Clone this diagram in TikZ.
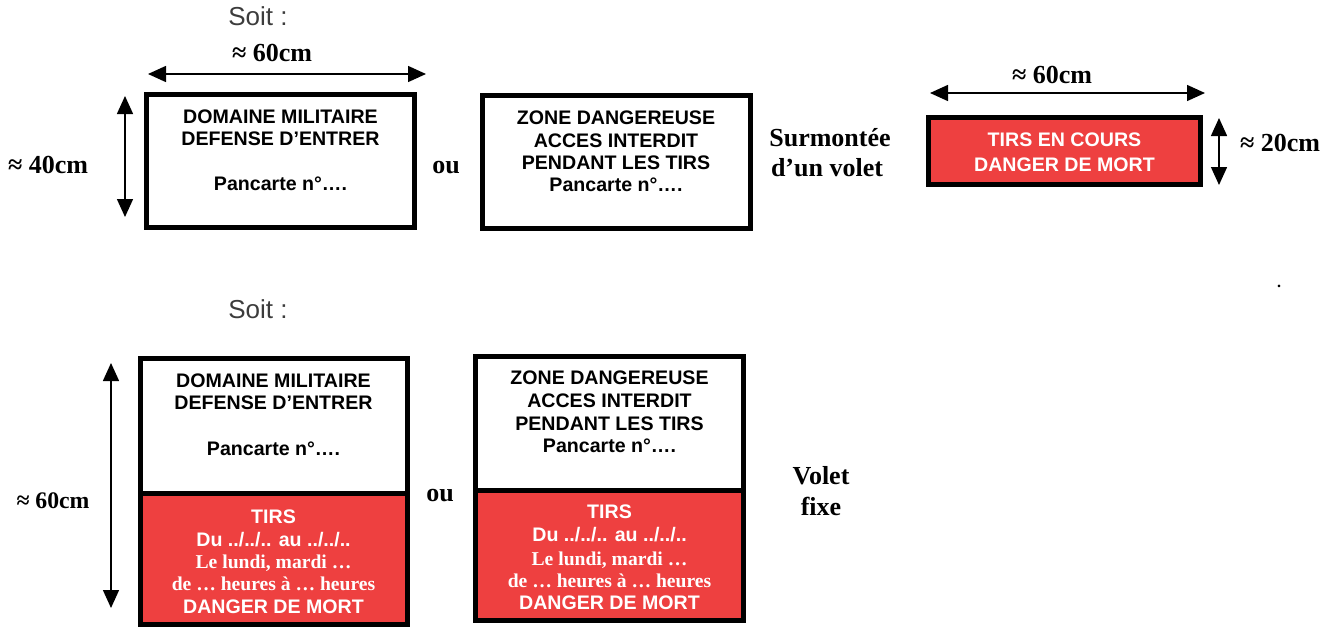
\documentclass[tikz,border=0pt]{standalone}
\usepackage{fontspec}
\setmainfont{Liberation Serif}
\newfontfamily\signfont{Liberation Sans}
\usetikzlibrary{arrows.meta}
\definecolor{signred}{RGB}{238,64,64}
\definecolor{soitgray}{RGB}{60,60,60}

\begin{document}
\begin{tikzpicture}[x=0.75pt,y=-0.75pt,
  panel/.style={draw=black, line width=3.75pt, inner sep=0pt, minimum width=201pt},
  redpanel/.style={panel, fill=signred},
  sign/.style={font=\signfont\bfseries\fontsize{14.7}{16}\selectfont, anchor=mid, inner sep=0pt},
  signw/.style={sign, text=white},
  serifw/.style={font=\bfseries\fontsize{14.7}{16}\selectfont, text=white, anchor=mid, inner sep=0pt},
  dim/.style={font=\bfseries\fontsize{19.5}{22}\selectfont, anchor=mid, inner sep=0pt, yshift=-2.25pt},
  soit/.style={font=\signfont\fontsize{19.5}{22}\selectfont, text=soitgray, anchor=mid, inner sep=0pt, yshift=-2.25pt},
  dimarrow/.style={{Triangle[length=13.5pt,width=12pt]}-{Triangle[length=13.5pt,width=12pt]}, line width=1.1pt}]
\useasboundingbox (0,0) rectangle (1326,628);

% ---------- top row: separate panel and shutter ----------
\node[soit] (soit1) at (258,19) {Soit :};
\node[dim] (w1) at (272,55) {≈ 60cm};
\node[dim] (h1) at (48,167) {≈ 40cm};

\node[panel, minimum height=99.75pt] (p1) at (280.5,161) {};
\node[sign] (p1a) at (280.5,120) {DOMAINE MILITAIRE};
\node[sign] (p1b) at (280.5,142) {DEFENSE D’ENTRER};
\node[sign] (p1c) at (280.5,187) {Pancarte n°….};

\node[dim] (ou1) at (446,167) {ou};

\node[panel, minimum height=99.75pt] (p2) at (616,161.5) {};
\node[sign] (p2a) at (616,121) {ZONE DANGEREUSE};
\node[sign] (p2b) at (616,144) {ACCES INTERDIT};
\node[sign] (p2c) at (616,166) {PENDANT LES TIRS};
\node[sign] (p2d) at (616,188) {Pancarte n°….};

\node[dim] (s1) at (830,140) {Surmontée};
\node[dim] (s2) at (827,170) {d’un volet};

\node[dim] (w2) at (1052,77) {≈ 60cm};
\node[redpanel, minimum width=204pt, minimum height=50.25pt] (v1) at (1064.5,151) {};
\node[signw] (v1a) at (1064.5,143) {TIRS EN COURS};
\node[signw] (v1b) at (1064.5,168) {DANGER DE MORT};
\node[dim] (h2) at (1280,145) {≈ 20cm};

\node[dim, font=\bfseries\fontsize{12}{14}\selectfont] (dot) at (1279,281) {.};

% dimension arrows, top row
\coordinate (a1l) at (148,74);  \coordinate (a1r) at (426,74);
\coordinate (a2t) at (125,96);  \coordinate (a2b) at (125,217);
\coordinate (a3l) at (930,93);  \coordinate (a3r) at (1205,93);
\coordinate (a4t) at (1219,118); \coordinate (a4b) at (1219,185);
\draw[dimarrow] (a1l) -- (a1r);
\draw[dimarrow] (a2t) -- (a2b);
\draw[dimarrow] (a3l) -- (a3r);
\draw[dimarrow] (a4t) -- (a4b);

% ---------- bottom row: panel with fixed shutter ----------
\node[soit] (soit2) at (258,312) {Soit :};
\node[dim, font=\bfseries\fontsize{17.8}{20}\selectfont] (h3) at (53,502) {≈ 60cm};

\node[redpanel, minimum width=200.25pt, minimum height=98.625pt] (q1r) at (273.5,558.75) {};
\node[panel, fill=white, minimum width=200.25pt, minimum height=100.875pt] (q1w) at (273.5,425.75) {};
\node[sign] (q1a) at (273.5,384) {DOMAINE MILITAIRE};
\node[sign] (q1b) at (273.5,406) {DEFENSE D’ENTRER};
\node[sign] (q1c) at (273.5,452) {Pancarte n°….};
\node[signw] (q1d) at (273.5,520) {TIRS};
\node[signw] (q1e) at (273.5,543) {Du ../../.. au ../../..};
\node[serifw] (q1f) at (273.5,565) {Le lundi, mardi …};
\node[serifw] (q1g) at (273.5,587) {de … heures à … heures};
\node[signw] (q1h) at (273.5,610) {DANGER DE MORT};

\node[dim] (ou2) at (440,495) {ou};

\node[redpanel, minimum height=97.875pt] (q2r) at (609.5,555.25) {};
\node[panel, fill=white, minimum height=100.125pt] (q2w) at (609.5,423.25) {};
\node[sign] (q2a) at (609.5,381) {ZONE DANGEREUSE};
\node[sign] (q2b) at (609.5,404) {ACCES INTERDIT};
\node[sign] (q2c) at (609.5,427) {PENDANT LES TIRS};
\node[sign] (q2d) at (609.5,449) {Pancarte n°….};
\node[signw] (q2e) at (609.5,515) {TIRS};
\node[signw] (q2f) at (609.5,538) {Du ../../.. au ../../..};
\node[serifw] (q2g) at (609.5,562) {Le lundi, mardi …};
\node[serifw] (q2h) at (609.5,584) {de … heures à … heures};
\node[signw] (q2i) at (609.5,606) {DANGER DE MORT};

\node[dim] (vf1) at (821,478) {Volet};
\node[dim] (vf2) at (821,509) {fixe};

\coordinate (a5t) at (111,363); \coordinate (a5b) at (111,608);
\draw[dimarrow] (a5t) -- (a5b);
\end{tikzpicture}
\end{document}
